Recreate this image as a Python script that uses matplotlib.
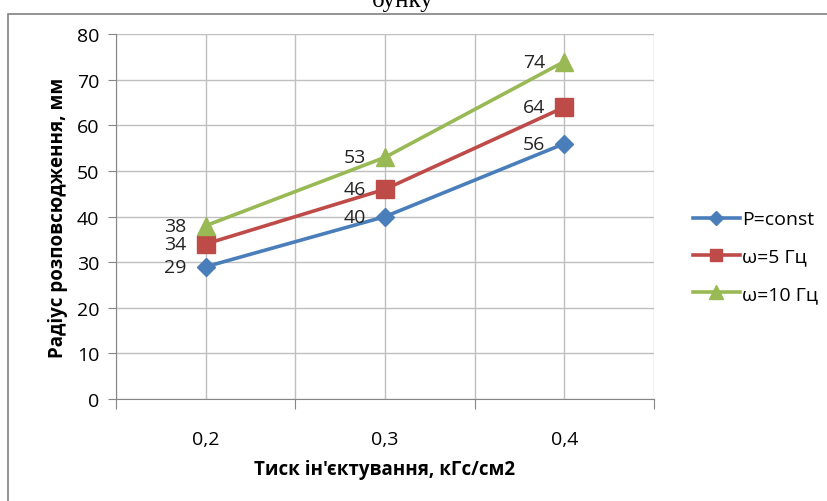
import numpy as np
import matplotlib
matplotlib.use('Agg')
import matplotlib.pyplot as plt
from matplotlib.patches import Rectangle

plt.rcParams['font.family'] = ['Open Sans', 'DejaVu Sans']

# дані
categories = ['0,2', '0,3', '0,4']
p_const = [29, 40, 56]
w5 = [34, 46, 64]
w10 = [38, 53, 74]
series_names = ['P=const', 'ω=5 Гц', 'ω=10 Гц']
y_ticks = [0, 10, 20, 30, 40, 50, 60, 70, 80]

colors = ['#4A7EBB', '#BE4B48', '#98B954']
markers = ['D', 's', '^']
msizes = [9.5, 13, 13.5]

fig = plt.figure(figsize=(8.28, 5.02), dpi=100)
ax = fig.add_axes([0.140, 0.203, 0.650, 0.727])

# рамка діаграми
fig.patches.append(Rectangle((8 / 828, -0.05), 1.0, 1 - 15 / 502 + 0.05,
                             transform=fig.transFigure, fill=False,
                             edgecolor='#808080', linewidth=1.2))
fig.text(0.486, 1.0, 'бунку', ha='center', va='center', fontsize=18,
         family='Liberation Serif')

x = np.arange(len(categories))
for vals, name, c, m, ms in zip([p_const, w5, w10], series_names, colors, markers, msizes):
    ax.plot(x, vals, color=c, linewidth=2.6, marker=m, markersize=ms, label=name, zorder=3)
    for xi, v in zip(x, vals):
        ax.annotate(str(v), (xi, v), xytext=(-14, 0), textcoords='offset points',
                    ha='right', va='center', fontsize=14, color='#222222')

ax.set_xlim(-0.5, 2.5)
ax.set_ylim(0, 80)
ax.set_yticks(y_ticks)
ax.set_xticks([-0.5, 0.5, 1.5, 2.5])
ax.set_xticklabels([])
ax.set_xticks(x, minor=True)
ax.set_xticklabels(categories, minor=True)
ax.tick_params(axis='x', which='major', length=7, color='#868686')
ax.tick_params(axis='x', which='minor', length=0, pad=22, labelsize=14)
ax.tick_params(axis='y', length=6, color='#868686', pad=6, labelsize=14)
ax.grid(True, axis='y', color='#BFBFBF', linewidth=1)
ax.grid(True, axis='x', which='both', color='#BFBFBF', linewidth=1)
ax.set_axisbelow(True)
for s in ['top', 'right']:
    ax.spines[s].set_visible(False)
for s in ['left', 'bottom']:
    ax.spines[s].set_color('#868686')

ax.set_ylabel('Радіус розповсюдження, мм', fontsize=13.5, fontweight='bold', labelpad=6)
ax.set_xlabel("Тиск ін'єктування, кГс/см2", fontsize=13.5, fontweight='bold', labelpad=8)

ax.legend(loc='center left', bbox_to_anchor=(1.04, 0.39), frameon=False,
          fontsize=14, handlelength=2.4, handletextpad=0.1, labelspacing=1.0,
          markerscale=0.7)

fig.savefig('out.png', dpi=100)
